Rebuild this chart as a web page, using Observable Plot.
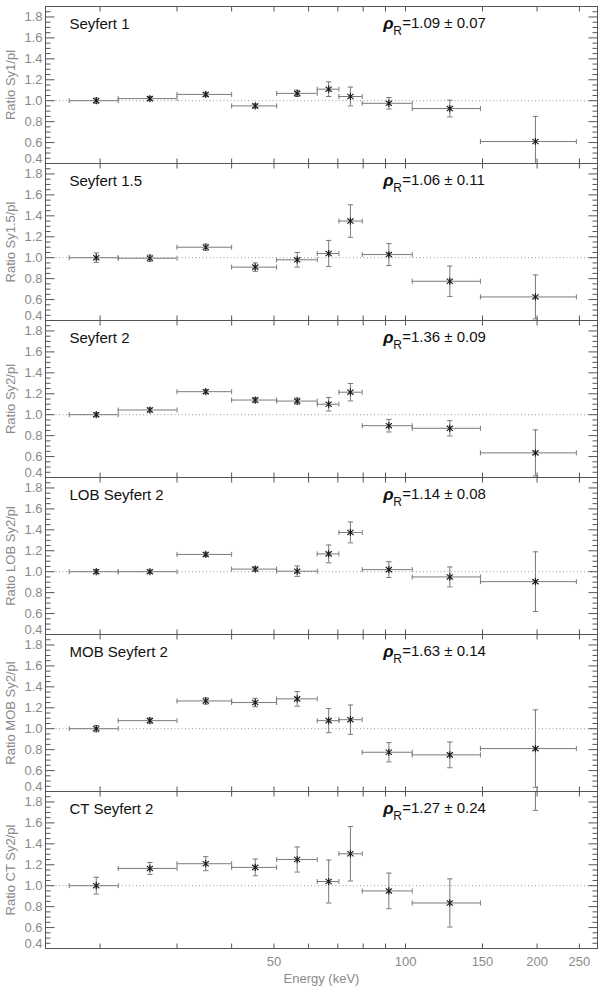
<!DOCTYPE html>
<html><head><meta charset="utf-8">
<script src="https://cdn.jsdelivr.net/npm/d3@7"></script>
<script src="https://cdn.jsdelivr.net/npm/@observablehq/plot@0.6"></script>
<style>
body{margin:0;background:#fff;}
#chart svg{display:block;}
</style></head><body><div id="chart"></div>
<script>
// ---- data ----
const panels = ["Seyfert 1","Seyfert 1.5","Seyfert 2","LOB Seyfert 2","MOB Seyfert 2","CT Seyfert 2"];
const yTitles = ["Ratio Sy1/pl","Ratio Sy1.5/pl","Ratio Sy2/pl","Ratio LOB Sy2/pl","Ratio MOB Sy2/pl","Ratio CT Sy2/pl"];
const rhoValues = ["1.09 ± 0.07","1.06 ± 0.11","1.36 ± 0.09","1.14 ± 0.08","1.63 ± 0.14","1.27 ± 0.24"];

const eLo  = [17, 22, 30, 40, 50.7, 62.8, 70.4, 79.6, 103.6, 148.4];
const eHi  = [22, 30, 40, 50.7, 62.8, 70.4, 79.6, 103.6, 148.4, 246];
const eMid = [19.6, 26, 34.9, 45.3, 56.5, 66.7, 74.8, 91.6, 126.3, 198.3];

const sy1     = [1.00, 1.02, 1.06, 0.95, 1.07, 1.11, 1.04, 0.975, 0.925, 0.61];
const sy1Err  = [0.025, 0.02, 0.02, 0.02, 0.03, 0.07, 0.09, 0.055, 0.08, 0.24];
const sy15    = [1.00, 0.995, 1.10, 0.91, 0.98, 1.04, 1.35, 1.03, 0.775, 0.625];
const sy15Err = [0.045, 0.03, 0.03, 0.04, 0.07, 0.125, 0.155, 0.105, 0.145, 0.21];
const sy2     = [1.00, 1.045, 1.22, 1.14, 1.13, 1.10, 1.215, 0.895, 0.87, 0.635];
const sy2Err  = [0.02, 0.02, 0.02, 0.025, 0.03, 0.065, 0.083, 0.06, 0.073, 0.22];
const lob     = [1.00, 1.00, 1.165, 1.025, 1.005, 1.17, 1.375, 1.02, 0.95, 0.905];
const lobErr  = [0.02, 0.015, 0.02, 0.02, 0.05, 0.085, 0.10, 0.075, 0.095, 0.285];
const mob     = [1.00, 1.077, 1.265, 1.25, 1.285, 1.077, 1.086, 0.775, 0.75, 0.81];
const mobErr  = [0.03, 0.025, 0.03, 0.04, 0.07, 0.115, 0.14, 0.092, 0.123, 0.37];
const ct      = [1.00, 1.165, 1.21, 1.175, 1.25, 1.04, 1.305, 0.95, 0.835, 2.30];
const ctErr   = [0.08, 0.057, 0.067, 0.08, 0.12, 0.205, 0.26, 0.17, 0.23, 0.58];

const yTickLabels = [0.4, 0.6, 0.8, 1.0, 1.2, 1.4, 1.6, 1.8];
const xTickLabels = [50, 100, 150, 200, 250];
const xMinorTicks = [20, 30, 40, 50, 60, 70, 80, 90, 100, 150, 200, 250];
const xDomain = [15, 275];
const yDomain = [0.4, 1.9];

// ---- derived tables ----
const seriesValues = [sy1, sy15, sy2, lob, mob, ct];
const seriesErrors = [sy1Err, sy15Err, sy2Err, lobErr, mobErr, ctErr];
const rows = panels.flatMap((p, i) => eMid.map((e, j) => ({
  panel: p, e, lo: eLo[j], hi: eHi[j], v: seriesValues[i][j], err: seriesErrors[i][j]
})));
const info = panels.map((p, i) => ({panel: p, yTitle: yTitles[i], rho: "=" + rhoValues[i]}));
const yMinor = d3.range(0.4, 1.9001, 0.05).map(v => +v.toFixed(2)).filter(v => !yTickLabels.some(t => Math.abs(t - v) < 1e-6));
const yLabelsInner = yTickLabels.filter(v => v !== yDomain[0]);
const yLabelsBottom = yTickLabels.filter(v => v === yDomain[0]);

// ---- symbols ----
const seg = (x1, y1, x2, y2) => ({draw(c) { c.moveTo(x1, y1); c.lineTo(x2, y2); }});
const star = {draw(c) {
  c.moveTo(0, -3.6); c.lineTo(0, 3.6);
  c.moveTo(-3.1, -2.6); c.lineTo(3.1, 2.6);
  c.moveTo(-3.1, 2.6); c.lineTo(3.1, -2.6);
}};

const errColor = "#7a7a7a";
const axisColor = "#555";
const labelGrey = "#8a8a8a";
const font = "'Liberation Sans', Arial, Helvetica, sans-serif";

const chart = Plot.plot({
  width: 600,
  height: 987,
  marginLeft: 45,
  marginRight: 3,
  marginTop: 3,
  marginBottom: 37,
  style: {fontFamily: font, background: "#fff"},
  x: {type: "log", domain: xDomain},
  y: {domain: yDomain},
  fy: {domain: panels, padding: 0, axis: null},
  marks: [
    Plot.ruleY([1], {stroke: "#9a9a9a", strokeDasharray: "1,2.5"}),
    // horizontal error bars
    Plot.ruleY(rows, {fy: "panel", y: "v", x1: "lo", x2: "hi", stroke: errColor, clip: true}),
    Plot.dot(rows, {fy: "panel", x: "lo", y: "v", symbol: seg(0, -2.5, 0, 2.5), fill: "none", stroke: errColor, strokeWidth: 1, clip: true}),
    Plot.dot(rows, {fy: "panel", x: "hi", y: "v", symbol: seg(0, -2.5, 0, 2.5), fill: "none", stroke: errColor, strokeWidth: 1, clip: true}),
    // vertical error bars
    Plot.ruleX(rows, {fy: "panel", x: "e", y1: d => d.v - d.err, y2: d => d.v + d.err, stroke: errColor, clip: true}),
    Plot.dot(rows, {fy: "panel", x: "e", y: d => d.v + d.err, symbol: seg(-2.7, 0, 2.7, 0), fill: "none", stroke: errColor, strokeWidth: 1, clip: true}),
    Plot.dot(rows, {fy: "panel", x: "e", y: d => d.v - d.err, symbol: seg(-2.7, 0, 2.7, 0), fill: "none", stroke: errColor, strokeWidth: 1, clip: true}),
    // points
    Plot.dot(rows, {fy: "panel", x: "e", y: "v", symbol: star, fill: "none", stroke: "#1a1a1a", strokeWidth: 1.15, clip: true}),
    // frame
    Plot.frame({stroke: axisColor}),
    // inward ticks, left/right
    Plot.dot(yTickLabels, {x: () => xDomain[0], y: d => d, symbol: seg(0, 0, 9, 0), fill: "none", stroke: axisColor, strokeWidth: 1}),
    Plot.dot(yMinor, {x: () => xDomain[0], y: d => d, symbol: seg(0, 0, 5, 0), fill: "none", stroke: axisColor, strokeWidth: 1}),
    Plot.dot(yTickLabels, {x: () => xDomain[1], y: d => d, symbol: seg(0, 0, -9, 0), fill: "none", stroke: axisColor, strokeWidth: 1}),
    Plot.dot(yMinor, {x: () => xDomain[1], y: d => d, symbol: seg(0, 0, -5, 0), fill: "none", stroke: axisColor, strokeWidth: 1}),
    // inward ticks, top/bottom
    Plot.dot(xMinorTicks, {x: d => d, y: () => yDomain[1], symbol: seg(0, 0, 0, 5), fill: "none", stroke: axisColor, strokeWidth: 1}),
    Plot.dot(xMinorTicks, {x: d => d, y: () => yDomain[0], symbol: seg(0, 0, 0, -5), fill: "none", stroke: axisColor, strokeWidth: 1}),
    // axes
    Plot.axisY(yLabelsInner, {tickSize: 0, tickPadding: 3, tickFormat: d => d.toFixed(1), fontSize: 13, color: labelGrey, label: null}),
    Plot.axisY(yLabelsBottom, {tickSize: 0, tickPadding: 3, tickFormat: d => d.toFixed(1), fontSize: 13, color: labelGrey, label: null, dy: -5}),
    Plot.axisX(xTickLabels, {anchor: "bottom", tickSize: 0, tickPadding: 8, tickFormat: d => String(d), fontSize: 13, color: labelGrey,
      label: "Energy (keV)", labelAnchor: "center", labelArrow: "none"}),
    // y titles
    Plot.text(info, {fy: "panel", text: "yTitle", frameAnchor: "left", rotate: -90, dx: -35, textAnchor: "middle", lineAnchor: "middle", fontSize: 13, fill: labelGrey}),
    // panel labels
    Plot.text(info, {fy: "panel", text: "panel", frameAnchor: "top-left", dx: 24, dy: 22.5, textAnchor: "start", lineAnchor: "bottom", fontSize: 15, fill: "#111"}),
    // rho_R annotations
    Plot.text(info, {fy: "panel", text: () => "ρ", frameAnchor: "top-left", dx: 337.7, dy: 22.5, textAnchor: "start", lineAnchor: "bottom", fontSize: 17, fontWeight: "bold", fontStyle: "italic", fill: "#111"}),
    Plot.text(info, {fy: "panel", text: () => "R", frameAnchor: "top-left", dx: 347.7, dy: 28.4, textAnchor: "start", lineAnchor: "bottom", fontSize: 12, fill: "#111"}),
    Plot.text(info, {fy: "panel", text: "rho", frameAnchor: "top-left", dx: 356.7, dy: 21.7, textAnchor: "start", lineAnchor: "bottom", fontSize: 15, fill: "#111"})
  ]
});
document.getElementById("chart").append(chart);
</script></body></html>
